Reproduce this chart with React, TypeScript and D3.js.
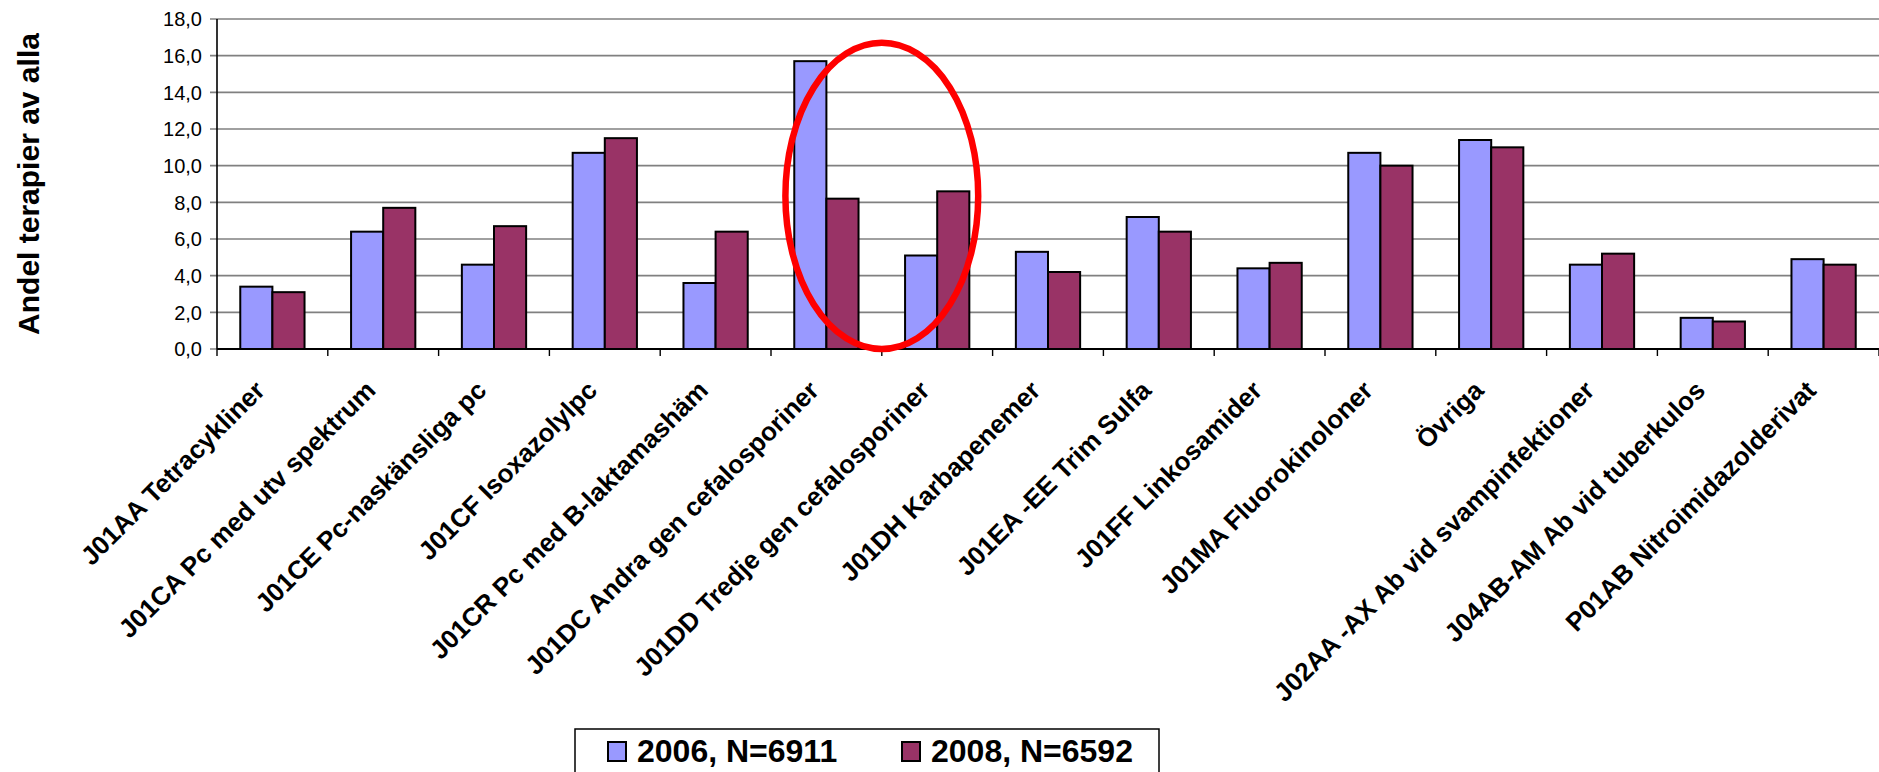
import * as d3 from 'd3';

const categories = [
  'J01AA Tetracykliner',
  'J01CA Pc med utv spektrum',
  'J01CE Pc-naskänsliga pc',
  'J01CF Isoxazolylpc',
  'J01CR Pc med B-laktamashäm',
  'J01DC Andra gen cefalosporiner',
  'J01DD Tredje gen cefalosporiner',
  'J01DH Karbapenemer',
  'J01EA -EE Trim Sulfa',
  'J01FF Linkosamider',
  'J01MA Fluorokinoloner',
  'Övriga',
  'J02AA -AX Ab vid svampinfektioner',
  'J04AB-AM Ab vid tuberkulos',
  'P01AB Nitroimidazolderivat'
];

const values2006 = [3.4, 6.4, 4.6, 10.7, 3.6, 15.7, 5.1, 5.3, 7.2, 4.4, 10.7, 11.4, 4.6, 1.7, 4.9];
const values2008 = [3.1, 7.7, 6.7, 11.5, 6.4, 8.2, 8.6, 4.2, 6.4, 4.7, 10.0, 11.0, 5.2, 1.5, 4.6];

const seriesNames = ['2006, N=6911', '2008, N=6592'];
const yTicks = [0, 2, 4, 6, 8, 10, 12, 14, 16, 18];

// red ring drawn round the two cephalosporin groups
const highlightCategories = ['J01DC Andra gen cefalosporiner', 'J01DD Tredje gen cefalosporiner'];
const highlightRange = [0, 16.7];

const WIDTH = 1879;
const HEIGHT = 772;
const margin = { top: 19, right: 0, bottom: 423, left: 217 };
const FONT = '"Liberation Sans", Arial, Helvetica, sans-serif';
const colors = ['#9999FF', '#993366'];

export default function App() {
  const innerW = WIDTH - margin.left - margin.right;
  const innerH = HEIGHT - margin.top - margin.bottom;
  const axisY = margin.top + innerH;

  const x0 = d3
    .scaleBand<string>()
    .domain(categories)
    .range([margin.left, margin.left + innerW])
    .padding(0);

  const groupW = x0.bandwidth() * 0.58;
  const x1 = d3.scaleBand<string>().domain(seriesNames).range([0, groupW]).padding(0);

  const y = d3.scaleLinear().domain([0, 18]).range([axisY, margin.top]);

  const series = [values2006, values2008];
  const fmt = (v: number) => d3.format('.1f')(v).replace('.', ',');

  const hx = x0(highlightCategories[1])!;
  const hy = (y(highlightRange[0]) + y(highlightRange[1])) / 2;
  const hry = (y(highlightRange[0]) - y(highlightRange[1])) / 2;
  const hrx = x0.bandwidth() * 0.87;

  return (
    <svg
      width={WIDTH}
      height={HEIGHT}
      style={{ position: 'absolute', left: 0, top: 0, background: '#fff' }}
      fontFamily={FONT}
    >
      {/* grid */}
      {yTicks.map((t) => (
        <g key={t}>
          <line
            x1={margin.left - 7}
            x2={margin.left + innerW}
            y1={y(t)}
            y2={y(t)}
            stroke="#808080"
            strokeWidth={1.6}
          />
          <text x={202} y={y(t)} dy="0.36em" textAnchor="end" fontSize={20} fill="#000">
            {fmt(t)}
          </text>
        </g>
      ))}

      {/* bars */}
      {categories.map((c, i) => {
        const gx = x0(c)! + (x0.bandwidth() - groupW) / 2;
        return (
          <g key={c}>
            {series.map((vals, s) => (
              <rect
                key={s}
                x={gx + x1(seriesNames[s])!}
                y={y(vals[i])}
                width={x1.bandwidth()}
                height={axisY - y(vals[i])}
                fill={colors[s]}
                stroke="#000"
                strokeWidth={2}
              />
            ))}
          </g>
        );
      })}

      {/* axes */}
      <line x1={margin.left} x2={margin.left} y1={margin.top} y2={axisY} stroke="#000" strokeWidth={1.6} />
      <line x1={margin.left} x2={margin.left + innerW} y1={axisY} y2={axisY} stroke="#000" strokeWidth={1.8} />
      {d3.range(categories.length + 1).map((k) => (
        <line
          key={k}
          x1={margin.left + k * x0.step()}
          x2={margin.left + k * x0.step()}
          y1={axisY}
          y2={axisY + 7}
          stroke="#000"
          strokeWidth={1.4}
        />
      ))}

      {/* category labels */}
      {categories.map((c) => {
        const ax = x0(c)! + x0.bandwidth() / 2 - 6;
        const ay = axisY + 43;
        return (
          <text
            key={c}
            transform={`translate(${ax},${ay}) rotate(-45)`}
            textAnchor="end"
            fontSize={26}
            fontWeight="bold"
            fill="#000"
          >
            {c}
          </text>
        );
      })}

      {/* y title */}
      <text
        transform={`translate(39,${(margin.top + axisY) / 2}) rotate(-90)`}
        textAnchor="middle"
        fontSize={30}
        fontWeight="bold"
        fill="#000"
      >
        Andel terapier av alla
      </text>

      {/* highlight */}
      <ellipse cx={hx} cy={hy} rx={hrx} ry={hry} fill="none" stroke="#FF0000" strokeWidth={6.5} />

      {/* legend */}
      <rect x={575} y={729} width={584} height={60} fill="#fff" stroke="#000" strokeWidth={1.5} />
      {seriesNames.map((n, s) => {
        const lx = s === 0 ? 608 : 902;
        return (
          <g key={n}>
            <rect x={lx} y={742} width={18} height={19} fill={colors[s]} stroke="#000" strokeWidth={2} />
            <text x={lx + 29} y={762} fontSize={32} fontWeight="bold" fill="#000">
              {n}
            </text>
          </g>
        );
      })}
    </svg>
  );
}
